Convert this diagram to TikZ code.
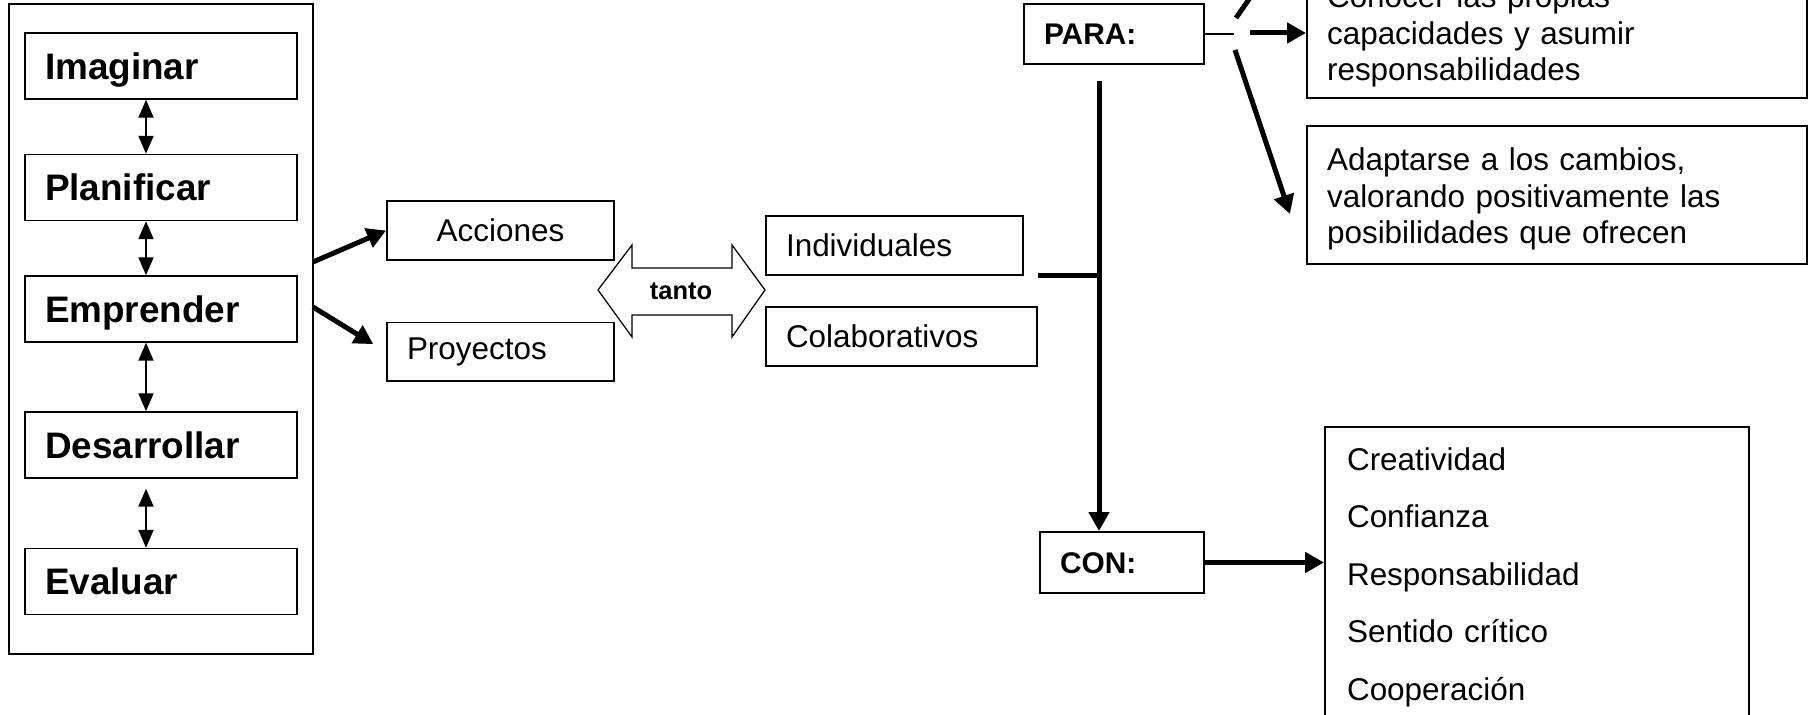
\documentclass[tikz,border=0pt]{standalone}
\usepackage{fontspec}
\setmainfont{Liberation Sans}
\usepackage{tikz}
\usetikzlibrary{positioning}
\usetikzlibrary{arrows.meta}
\tikzset{stepbox/.style={rectangle, draw=black, line width=0.03cm, minimum width=5.44cm, minimum height=1.32cm, text width=4.64cm, text height=15pt, text depth=0pt, align=left, inner xsep=0.4cm, font=\fontsize{21}{25}\selectfont\bfseries}}
\tikzset{textbox/.style={rectangle, draw=black, line width=0.04cm, minimum height=1.18cm, inner xsep=0.4cm, align=left, font=\fontsize{17.9}{21}\selectfont}}
\tikzset{keybox/.style={rectangle, draw=black, line width=0.04cm, inner xsep=0.4cm, text height=12.2pt, text depth=0pt, align=left, font=\fontsize{17}{20}\selectfont\bfseries}}
\tikzset{lowered/.style={execute at begin node={\rule{0pt}{17.5pt}}}}
\tikzset{thin arrow/.style={line width=0.04cm, {Triangle[length=0.36cm, width=0.3cm]}-{Triangle[length=0.36cm, width=0.3cm]}}}
\tikzset{bold arrow/.style={line width=0.1cm, -{Triangle[length=0.38cm, width=0.4cm]}}}
\tikzset{bold line/.style={line width=0.1cm}}

\begin{document}
\begin{tikzpicture}[x=0.02cm, y=-0.02cm]
        \useasboundingbox (0,0) rectangle (1810,715);
        \clip (0,0) rectangle (1810,715);

        \node [draw, line width=0.05cm, minimum width=6.08cm, minimum height=13cm](ciclo) at (161,329) {};
        \node [stepbox](imaginar) at (161,66) {Imaginar};
        \node [stepbox](planificar) at (161,187.5) {Planificar};
        \node [stepbox](emprender) at (161,309) {Emprender};
        \node [stepbox](desarrollar) at (161,445) {Desarrollar};
        \node [stepbox](evaluar) at (161,581.5) {Evaluar};

        \node [textbox, text width=3.74cm, align=center](acciones) at (500.5,230.5) {Acciones};
        \node [textbox, text width=3.74cm](proyectos) at (500.5,352) {Proyectos};
        \node [font=\fontsize{14.5}{17}\selectfont\bfseries](tanto) at (681,291) {tanto};
        \node [textbox, text width=4.34cm](individuales) at (894.5,245.5) {Individuales};
        \node [textbox, text width=4.62cm](colaborativos) at (901.5,336.5) {Colaborativos};

        \node [keybox, minimum height=1.2cm, text width=2.8cm](para) at (1114,34) {PARA:};
        \node [keybox, minimum height=1.22cm, text width=2.48cm](con) at (1122,562.5) {CON:};
        \node [textbox, lowered, text width=9.2cm, minimum height=2.64cm](conocer) at (1557,32) {Conocer las propias\\capacidades y asumir\\responsabilidades};
        \node [textbox, lowered, text width=9.2cm, minimum height=2.76cm](adaptarse) at (1557,195) {Adaptarse a los cambios,\\valorando positivamente las\\posibilidades que ofrecen};
        \node [textbox, lowered, inner xsep=0.44cm, text width=7.6cm, minimum height=5.84cm, font=\fontsize{17.9}{32.7}\selectfont](cualidades) at (1537,573) {Creatividad\\Confianza\\Responsabilidad\\Sentido crítico\\Cooperación};

        \coordinate (salida1) at (313,262);
        \coordinate (salida2) at (313,307);
        \coordinate (brazo) at (1038,276);
        \coordinate (union) at (1099,276);
        \coordinate (tronco) at (1099,81);
        \coordinate (nudo) at (1234,34);
        \coordinate (nudoB) at (1250,33);
        \coordinate (ramaA) at (1236,18);
        \coordinate (ramaA2) at (1254,-8);
        \coordinate (ramaB) at (1235,50);
        \coordinate (ramaB2) at (1290,214);

        \draw [thin arrow] ([xshift=-0.3cm]imaginar.south) -- ([xshift=-0.3cm]planificar.north);
        \draw [thin arrow] ([xshift=-0.3cm]planificar.south) -- ([xshift=-0.3cm]emprender.north);
        \draw [thin arrow] ([xshift=-0.3cm]emprender.south) -- ([xshift=-0.3cm]desarrollar.north);
        \draw [thin arrow, shorten <=0.2cm] ([xshift=-0.3cm]desarrollar.south) -- ([xshift=-0.3cm]evaluar.north);

        \draw [bold arrow] (salida1) -- (acciones.west);
        \draw [bold arrow, shorten >=0.3cm] (salida2) -- (proyectos.west);

        \draw [line width=0.025cm] (598,290) -- (632,245) -- (632,268) -- (732,268) -- (732,245) -- (765,290) -- (732,337) -- (732,315) -- (632,315) -- (632,337) -- cycle;

        \draw [bold line] (brazo) -- (union);
        \draw [bold arrow] (tronco) -- (tronco |- con.north);
        \draw [bold arrow] (con.east) -- (con.east -| cualidades.west);

        \draw [line width=0.03cm] (para.east) -- (nudo);
        \draw [bold arrow] (nudoB) -- (nudoB -| conocer.west);
        \draw [bold line] (ramaA) -- (ramaA2);
        \draw [bold arrow] (ramaB) -- (ramaB2);
\end{tikzpicture}
\end{document}
